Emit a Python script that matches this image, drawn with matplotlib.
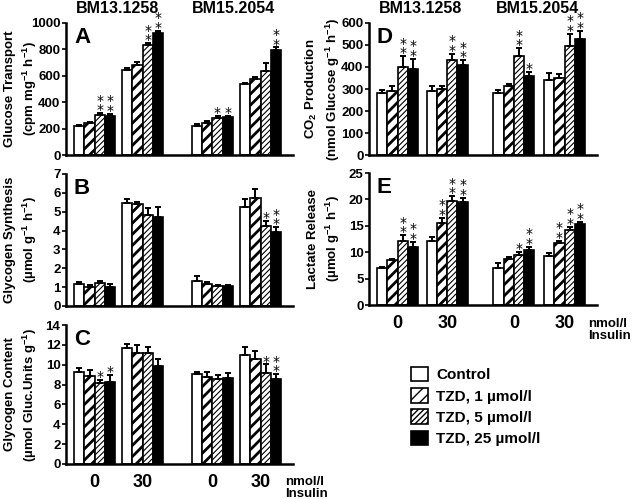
import numpy as np
import matplotlib
matplotlib.use("Agg")
import matplotlib.pyplot as plt

plt.rcParams['font.family'] = ['Liberation Sans', 'DejaVu Sans']
plt.rcParams['font.weight'] = 'bold'
plt.rcParams['axes.labelweight'] = 'bold'
plt.rcParams['mathtext.fontset'] = 'custom'
plt.rcParams['mathtext.rm'] = 'Liberation Sans:bold'
plt.rcParams['mathtext.bf'] = 'Liberation Sans:bold'
plt.rcParams['mathtext.default'] = 'rm'

# data: rows = groups (BM13 0, BM13 30, BM15 0, BM15 30), cols = treatments
treatments = ['Control', 'TZD, 1 µmol/l', 'TZD, 5 µmol/l', 'TZD, 25 µmol/l']
insulin_labels = ['0', '30', '0', '30']

glut_mean = [[222, 240, 303, 295], [644, 682, 833, 922],
             [220, 245, 278, 285], [535, 576, 639, 795]]
glut_err = [[8, 12, 15, 18], [18, 20, 15, 20],
            [15, 12, 18, 12], [12, 15, 60, 20]]
glut_star = [[0, 0, 2, 2], [0, 0, 2, 2], [0, 0, 1, 1], [0, 0, 0, 2]]

gsyn_mean = [[1.19, 1.01, 1.24, 1.01], [5.44, 5.39, 4.82, 4.73],
             [1.31, 1.19, 1.06, 1.06], [5.27, 5.71, 4.24, 3.94]]
gsyn_err = [[0.1, 0.1, 0.1, 0.15], [0.25, 0.15, 0.4, 0.5],
            [0.3, 0.1, 0.05, 0.05], [0.4, 0.5, 0.25, 0.25]]
gsyn_star = [[0, 0, 0, 0], [0, 0, 0, 0], [0, 0, 0, 0], [0, 0, 1, 2]]

gcon_mean = [[9.3, 8.86, 8.19, 8.29], [11.64, 11.14, 11.14, 9.87],
             [9.03, 8.79, 8.56, 8.62], [10.97, 10.54, 9.13, 8.56]]
gcon_err = [[0.4, 0.6, 0.3, 0.7], [0.4, 0.8, 0.6, 0.7],
            [0.25, 0.5, 0.4, 0.5], [0.8, 0.8, 0.9, 0.5]]
gcon_star = [[0, 0, 1, 1], [0, 0, 0, 0], [0, 0, 0, 0], [0, 0, 1, 2]]

co2_mean = [[284, 290, 400, 393], [292, 299, 431, 407],
            [284, 313, 450, 358], [343, 352, 496, 529]]
co2_err = [[10, 25, 50, 45], [20, 15, 30, 25],
           [10, 10, 35, 20], [30, 15, 55, 35]]
co2_star = [[0, 0, 2, 2], [0, 0, 2, 2], [0, 0, 2, 1], [0, 0, 2, 2]]

lac_mean = [[6.96, 8.54, 12.2, 10.95], [12.2, 15.6, 19.7, 19.5],
            [6.96, 8.73, 9.5, 10.4], [9.3, 11.8, 14.2, 15.4]]
lac_err = [[0.2, 0.2, 1.0, 1.0], [0.6, 0.9, 0.9, 0.8],
           [1.0, 0.4, 0.5, 0.6], [0.5, 0.4, 0.6, 0.4]]
lac_star = [[0, 0, 2, 2], [0, 2, 2, 2], [0, 0, 1, 2], [0, 2, 2, 2]]

left_starts = [0, 4.68, 11.5, 16.2]
right_starts = [0, 4.85, 11.35, 16.3]
styles = [dict(facecolor='white', hatch=None, hlw=1.0),
          dict(facecolor='white', hatch='///', hlw=2.0),
          dict(facecolor='white', hatch='//////', hlw=0.8),
          dict(facecolor='black', hatch=None, hlw=1.0)]


def panel(ax, mean, err, stars, ymax, step, letter, ylabel, starts, xlim):
    mean = np.array(mean)
    err = np.array(err)
    bars = []
    for t in range(4):
        x = np.array(starts) + t + 0.5
        st = styles[t]
        with plt.rc_context({'hatch.linewidth': st['hlw'], 'hatch.color': 'black'}):
            b = ax.bar(x, mean[:, t], width=1.0, facecolor=st['facecolor'],
                       edgecolor='black', linewidth=1.2, hatch=st['hatch'], zorder=2)
        for p in b:
            try:
                p.set_hatch_linewidth(st['hlw'])
            except AttributeError:
                pass
        bars.append(b)
        ax.errorbar(x, mean[:, t], yerr=[np.zeros(4), err[:, t]], fmt='none',
                    ecolor='black', elinewidth=1.4, capsize=2, capthick=1.4, zorder=3)
        for g in range(4):
            n = stars[g][t]
            if n:
                ax.annotate('\n'.join(['*'] * n), xy=(x[g], mean[g, t] + err[g, t]),
                            xytext=(0, -3), textcoords='offset points',
                            ha='center', va='bottom', fontsize=10, fontweight='normal',
                            linespacing=0.6, family='DejaVu Sans', annotation_clip=False)
    ax.set_xlim(*xlim)
    ax.set_ylim(0, ymax)
    ax.set_yticks(np.arange(0, ymax + step / 2, step))
    ax.spines['top'].set_visible(False)
    ax.spines['right'].set_visible(False)
    ax.spines['left'].set_linewidth(1.8)
    ax.spines['bottom'].set_linewidth(1.8)
    ax.tick_params(axis='y', labelsize=9.5, width=1.2, length=3, pad=1)
    ax.tick_params(axis='x', length=0)
    ax.set_xticks([s + 2 for s in starts])
    ax.set_xticklabels([])
    ax.text(0.035, 0.97, letter, transform=ax.transAxes, fontsize=16,
            fontweight='bold', va='top', ha='left')
    ax.set_ylabel(ylabel, fontsize=9.5, linespacing=1.35)
    ax.yaxis.set_label_coords(-0.12, 0.5)
    return bars


fig = plt.figure(figsize=(6.4, 4.99), dpi=100)
W = 640.0
H = 499.0


def add_axes(x0, x1, ytop, ybot):
    return fig.add_axes([x0 / W, 1 - ybot / H, (x1 - x0) / W, (ybot - ytop) / H])


axA = add_axes(66, 293, 23, 155)
axB = add_axes(66, 293, 174, 306)
axC = add_axes(66, 293, 325, 464)
axD = add_axes(369, 597, 23, 155)
axE = add_axes(369, 597, 173, 305)

lx = (-0.8, 21.37)
rx = (-0.78, 21.46)
panel(axA, glut_mean, glut_err, glut_star, 1000, 200, 'A',
      'Glucose Transport\n(cpm mg$^{-1}$ h$^{-1}$)', left_starts, lx)
panel(axB, gsyn_mean, gsyn_err, gsyn_star, 7, 1, 'B',
      'Glycogen Synthesis\n(µmol g$^{-1}$ h$^{-1}$)', left_starts, lx)
panel(axC, gcon_mean, gcon_err, gcon_star, 14, 2, 'C',
      'Glycogen Content\n(µmol Gluc.Units g$^{-1}$)', left_starts, lx)
panel(axD, co2_mean, co2_err, co2_star, 600, 100, 'D',
      'CO$_2$ Production\n(nmol Glucose g$^{-1}$ h$^{-1}$)', right_starts, rx)
bars = panel(axE, lac_mean, lac_err, lac_star, 25, 5, 'E',
             'Lactate Release\n(µmol g$^{-1}$ h$^{-1}$)', right_starts, rx)

for ax, xn, yn in ((axC, 0.965, -0.086), (axE, 0.96, -0.1)):
    ax.set_xticklabels(insulin_labels, fontsize=13, fontweight='bold')
    ax.tick_params(axis='x', pad=7)
    ax.text(xn, yn, 'nmol/l\nInsulin', transform=ax.transAxes, fontsize=9.5,
            fontweight='bold', ha='left', va='top', linespacing=1.0)

for ax in (axA, axD):
    ax.text(0.228, 1.05, 'BM13.1258', transform=ax.transAxes, fontsize=11.5,
            fontweight='bold', ha='center', va='bottom')
    ax.text(0.74, 1.05, 'BM15.2054', transform=ax.transAxes, fontsize=11.5,
            fontweight='bold', ha='center', va='bottom')

fig.legend([b[0] for b in bars], treatments, loc='upper left',
           bbox_to_anchor=(397 / W, 1 - 353 / H), frameon=False,
           handlelength=1.1, handleheight=1.1, handletextpad=0.55,
           labelspacing=0.38, prop={'size': 11, 'weight': 'bold'})

fig.savefig('out.png', dpi=100)
